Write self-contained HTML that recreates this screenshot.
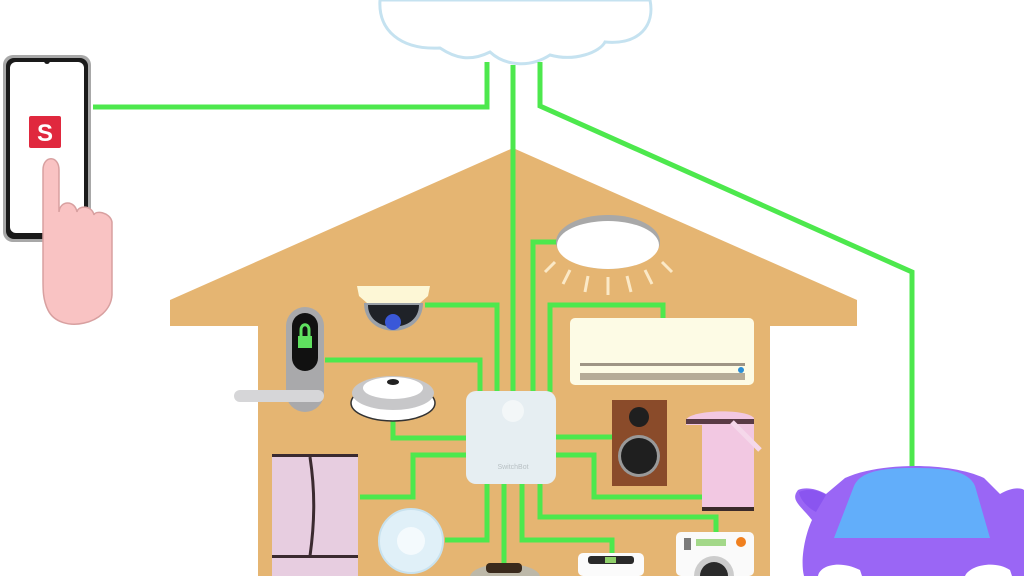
<!DOCTYPE html>
<html><head><meta charset="utf-8"><style>html,body{margin:0;padding:0;background:#fff}svg{display:block}</style></head>
<body>
<svg width="1024" height="576" viewBox="0 0 1024 576" xmlns="http://www.w3.org/2000/svg" font-family="Liberation Sans, sans-serif">
<rect width="1024" height="576" fill="#fff"/>
<path d="M513,148 L857,300 L857,326 L770,326 L770,576 L258,576 L258,326 L170,326 L170,300 Z" fill="#e5b572"/>
<path d="M380,0 C378,30 400,50 440,48 C455,58 470,62 490,52 C505,66 530,68 550,55 C575,62 600,52 605,42 C640,45 655,25 650,0 Z" fill="#fff" stroke="#c5e2f0" stroke-width="3"/>
<g fill="none" stroke="#4de84d" stroke-width="5" stroke-linejoin="miter">
<path d="M93,107 L487,107 L487,62"/>
<path d="M513,65 L513,392"/>
<path d="M540,62 L540,106 L912,272 L912,468"/>
<path d="M560,242 L533,242 L533,392"/>
<path d="M663,320 L663,305 L550,305 L550,392"/>
<path d="M425,305 L497,305 L497,392"/>
<path d="M325,360 L480,360 L480,392"/>
<path d="M393,420 L393,438 L466,438"/>
<path d="M360,497 L413,497 L413,455 L466,455"/>
<path d="M445,540 L487,540 L487,484"/>
<path d="M504,484 L504,565"/>
<path d="M556,437 L612,437"/>
<path d="M556,455 L594,455 L594,497 L702,497"/>
<path d="M540,484 L540,517 L716,517 L716,532"/>
<path d="M522,484 L522,540 L612,540 L612,555"/>
</g>
<rect x="3" y="55" width="88" height="187" rx="10" fill="#a8a8a8"/>
<rect x="6" y="58" width="82" height="181" rx="8" fill="#1a1a1a"/>
<rect x="10" y="62" width="74" height="171" rx="6" fill="#fff"/>
<circle cx="47" cy="61" r="3" fill="#1a1a1a"/>
<rect x="29" y="116" width="32" height="32" rx="2" fill="#e0283e"/>
<text x="45" y="141" font-size="24" font-weight="bold" fill="#fff" text-anchor="middle">S</text>
<path d="M43,170 C43,155 59,155 59,170 L59,212 C60,200 75,200 77,212 C78,205 92,205 94,215 C95,210 110,212 112,222 L112,295 C110,325 60,335 48,310 C43,300 43,290 43,280 Z" fill="#f9c3c3" stroke="#d8a0a0" stroke-width="1.5"/>
<ellipse cx="608" cy="242" rx="52" ry="27" fill="#a8a8a8"/>
<ellipse cx="608" cy="245" rx="51" ry="24" fill="#fff"/>
<g stroke="#fbe9c7" stroke-width="3"><path d="M555,262 L545,272 M570,270 L563,284 M588,276 L585,292 M608,277 L608,295 M627,276 L631,292 M645,270 L652,284 M662,262 L672,272"/></g>
<rect x="570" y="318" width="184" height="67" rx="5" fill="#fdfbe5"/>
<rect x="580" y="363" width="165" height="3" fill="#9e9585"/>
<rect x="580" y="373" width="165" height="7" fill="#b5ab97"/>
<circle cx="741" cy="370" r="3" fill="#2a8ed6"/>
<path d="M357,286 L430,286 L428,296 L420,303 L367,303 L359,296 Z" fill="#fdf7d6"/>
<path d="M364,303 L423,303 C423,340 364,340 364,303 Z" fill="#9aa0a8"/>
<path d="M368,305 L419,305 C419,334 368,334 368,305 Z" fill="#1f2228"/>
<circle cx="393" cy="322" r="8" fill="#3a58d8"/>
<rect x="286" y="307" width="38" height="105" rx="19" fill="#a9a9ab"/>
<rect x="292" y="313" width="26" height="58" rx="13" fill="#111"/>
<rect x="298" y="336" width="14" height="12" fill="#5fe05f"/>
<path d="M301,336 L301,330 C301,323 309,323 309,330 L309,336" stroke="#5fe05f" stroke-width="3" fill="none"/>
<rect x="234" y="390" width="90" height="12" rx="6" fill="#d6d6d8"/>
<ellipse cx="393" cy="403" rx="42" ry="18" fill="#fff" stroke="#333" stroke-width="1.5"/>
<ellipse cx="393" cy="393" rx="41" ry="17" fill="#c7c7c9"/>
<ellipse cx="393" cy="388" rx="30" ry="11" fill="#fff"/>
<ellipse cx="393" cy="382" rx="6" ry="3" fill="#222"/>
<rect x="466" y="391" width="90" height="93" rx="10" fill="#e6eef2"/>
<circle cx="513" cy="411" r="11" fill="#f3f7f8"/>
<text x="513" y="469" font-size="7" fill="#b8c0c4" text-anchor="middle">SwitchBot</text>
<rect x="612" y="400" width="55" height="86" fill="#8a4b2a"/>
<circle cx="639" cy="417" r="10" fill="#1f1f1f"/>
<circle cx="639" cy="456" r="21" fill="#999"/>
<circle cx="639" cy="456" r="18" fill="#1f1f1f"/>
<rect x="702" y="418" width="52" height="92" rx="4" fill="#f2c8e2"/>
<rect x="702" y="507" width="52" height="4" fill="#3b2a2a"/>
<path d="M686,420 C690,410 745,408 754,418 L754,425 L686,425 Z" fill="#f2c8e2"/>
<rect x="686" y="419" width="68" height="5" fill="#5a3b45"/>
<path d="M732,422 L760,450" stroke="#f5d8ea" stroke-width="5"/>
<rect x="272" y="455" width="86" height="121" fill="#e7cde0"/>
<rect x="272" y="454" width="86" height="3" fill="#3b2a30"/>
<path d="M310,457 C315,490 315,520 310,556" stroke="#3b2a30" stroke-width="3" fill="none"/>
<rect x="272" y="555" width="86" height="3" fill="#3b2a30"/>
<circle cx="411" cy="541" r="32" fill="#e0f0f8" stroke="#c8e2ef" stroke-width="2"/>
<circle cx="411" cy="541" r="14" fill="#f4fafd"/>
<path d="M470,576 C475,560 535,560 540,576 Z" fill="#bdb8a8"/>
<rect x="486" y="563" width="36" height="10" rx="4" fill="#3a2a1c"/>
<rect x="578" y="553" width="66" height="23" rx="5" fill="#fbfbfb"/>
<rect x="588" y="556" width="46" height="8" rx="3" fill="#2a2a2a"/>
<rect x="605" y="557" width="11" height="6" fill="#8fd06a"/>
<rect x="676" y="532" width="78" height="44" rx="5" fill="#fafafa"/>
<rect x="684" y="538" width="7" height="12" fill="#7a7a7a"/>
<rect x="696" y="539" width="30" height="7" fill="#a3d889"/>
<circle cx="741" cy="542" r="5" fill="#f0801f"/>
<circle cx="714" cy="576" r="20" fill="#ccc"/>
<circle cx="714" cy="576" r="14" fill="#2a2a2a"/>
<path d="M812,520 C800,505 790,500 798,490 C805,487 815,488 826,494 L845,478 C880,462 950,462 984,478 L1000,494 C1010,488 1020,487 1024,490 L1024,576 L804,576 C800,560 805,535 812,520 Z" fill="#9a66f5"/>
<path d="M799,492 C808,488 818,490 826,495 L816,512 C808,508 800,500 799,492 Z" fill="#8a55f0"/>
<path d="M834,538 L854,486 C860,472 880,468 912,468 C945,468 968,470 975,486 L990,538 Z" fill="#62aefa"/>
<path d="M818,576 C820,565 840,560 860,570 L862,576 Z M965,576 C970,565 995,560 1010,570 L1012,576 Z" fill="#fff"/>
</svg>
</body></html>
